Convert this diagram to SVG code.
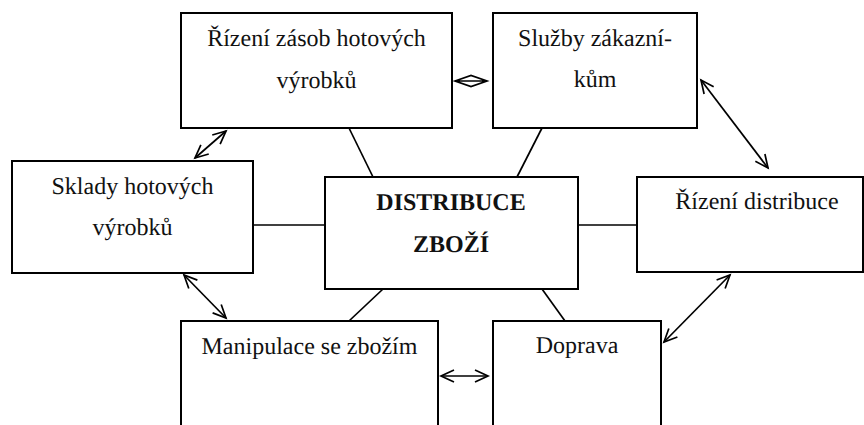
<svg xmlns="http://www.w3.org/2000/svg" width="864" height="425" viewBox="0 0 864 425">
  <defs>
    <marker id="head" markerUnits="userSpaceOnUse" markerWidth="18" markerHeight="16" refX="14" refY="7" orient="auto-start-reverse" overflow="visible">
      <path d="M1,1 L14,7 L1,13" fill="none" stroke="#000" stroke-width="1.7"/>
    </marker>
    <style>
      .box { fill: #fff; stroke: #000; stroke-width: 2; }
      .lbl { font-family: "Liberation Serif", "Times New Roman", serif; font-size: 24px; fill: #111; text-anchor: middle; text-rendering: geometricPrecision; }
      .bold { font-weight: bold; }
      .link { stroke: #000; stroke-width: 1.7; fill: none; }
      .arr { stroke: #000; stroke-width: 1.7; fill: none; marker-start: url(#head); marker-end: url(#head); }
    </style>
  </defs>
  <rect width="864" height="425" fill="#fff"/>

  <g id="connectors">
    <!-- plain links to the central box -->
    <line class="link" x1="349" y1="128" x2="373" y2="177"/>
    <line class="link" x1="542" y1="128" x2="517" y2="177"/>
    <line class="link" x1="253" y1="225" x2="325" y2="225"/>
    <line class="link" x1="577" y1="225" x2="637" y2="225"/>
    <line class="link" x1="383" y1="289" x2="349" y2="321"/>
    <line class="link" x1="542" y1="289" x2="565" y2="321"/>
    <!-- two-way links between neighbouring boxes -->
    <line class="arr" x1="226" y1="131" x2="195" y2="158"/>
    <line class="arr" x1="184" y1="275" x2="226" y2="318"/>
    <line class="arr" x1="701" y1="80" x2="768" y2="168"/>
    <line class="arr" x1="730" y1="275" x2="664" y2="342"/>
    <line class="arr" x1="441" y1="376" x2="488" y2="376"/>
    <!-- short two-way link drawn as a diamond -->
    <path class="link" d="M455,81 L471,75.5 L487,81 L471,86.5 Z M455,81 L487,81"/>
  </g>

  <g id="rizeni-zasob">
    <rect class="box" x="181" y="13" width="271" height="115"/>
    <text class="lbl" x="316.5" y="46">Řízení zásob hotových</text>
    <text class="lbl" x="316.5" y="88">výrobků</text>
  </g>

  <g id="sluzby">
    <rect class="box" x="493" y="13" width="204" height="115"/>
    <text class="lbl" x="595" y="46">Služby zákazní-</text>
    <text class="lbl" x="595" y="87">kům</text>
  </g>

  <g id="sklady">
    <rect class="box" x="12" y="161" width="241" height="112"/>
    <text class="lbl" x="132.5" y="194">Sklady hotových</text>
    <text class="lbl" x="132.5" y="235">výrobků</text>
  </g>

  <g id="distribuce">
    <rect class="box" x="325" y="177" width="253" height="112"/>
    <text class="lbl bold" x="451" y="210">DISTRIBUCE</text>
    <text class="lbl bold" x="451" y="252">ZBOŽÍ</text>
  </g>

  <g id="rizeni-distribuce">
    <rect class="box" x="637" y="177" width="226" height="95"/>
    <text class="lbl" x="757" y="209">Řízení distribuce</text>
  </g>

  <g id="manipulace">
    <rect class="box" x="181" y="321" width="257" height="120"/>
    <text class="lbl" x="309.5" y="354">Manipulace se zbožím</text>
  </g>

  <g id="doprava">
    <rect class="box" x="493" y="321" width="168" height="120"/>
    <text class="lbl" x="577" y="353">Doprava</text>
  </g>
</svg>
